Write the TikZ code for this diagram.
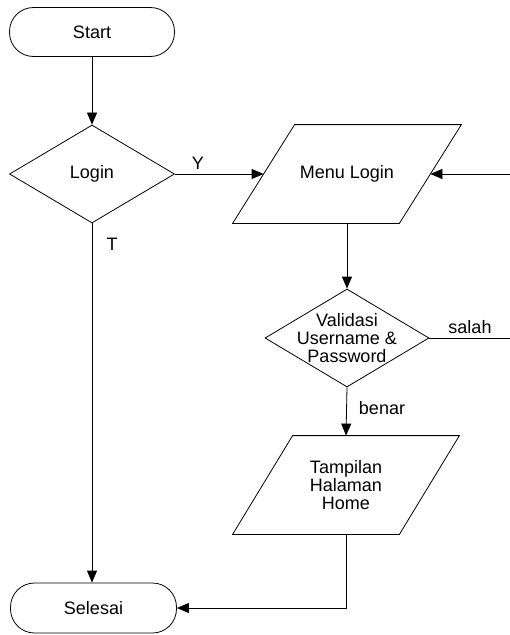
\documentclass[tikz,border=0pt]{standalone}
\usepackage{fontspec}
\setmainfont{Liberation Sans}
\usetikzlibrary{shapes.geometric, arrows.meta, calc}
\begin{document}
\begin{tikzpicture}[x=1pt,y=-1pt,
 font=\fontsize{18}{18}\selectfont,
 line width=0.8pt,
 terminal/.style={draw, rectangle, rounded corners=24pt, minimum width=165pt, minimum height=49pt, inner sep=0pt},
 decision/.style={draw, diamond, minimum width=165pt, minimum height=98pt, inner sep=0pt},
 iobox/.style={rectangle, minimum width=166pt, minimum height=98pt, inner sep=0pt, align=center},
 arr/.style={-{Triangle[length=12pt,width=10pt]}},
 lbl/.style={inner sep=0pt}]
\useasboundingbox (0,0) rectangle (510,635);

\node[terminal] (start) at (92,32) {Start};
\node[decision, label={center:Login}] (login) at (92,174) {};
\node[iobox] (menu) at (347,174) {Menu Login};
\node[decision, minimum width=164pt, label={[align=center]center:Validasi\\Username \&\\Password}] (valid) at (347,338) {};
\node[iobox] (tamp) at (346,485) {Tampilan\\Halaman\\Home};
\node[terminal, minimum width=166pt, minimum height=50pt] (selesai) at (93.5,608) {Selesai};

\draw ($(menu.north west)+(31,0)$) -- ($(menu.north east)+(31,0)$) -- ($(menu.south east)+(-31,0)$) -- ($(menu.south west)+(-31,0)$) -- cycle;
\draw ($(tamp.north west)+(30,0)$) -- ($(tamp.north east)+(30,0)$) -- ($(tamp.south east)+(-30,0)$) -- ($(tamp.south west)+(-30,0)$) -- cycle;

\node[lbl] (ylbl) at (198,163) {Y};
\node[lbl] (tlbl) at (112,244) {T};
\node[lbl] (salahlbl) at (470,327) {salah};
\node[lbl] (benarlbl) at (382,408) {benar};

\coordinate (rin) at (510,174);
\coordinate (rout) at (510,338);

\draw[arr] (start) -- (login);
\draw[arr] (login.east) -- (menu.west);
\draw[arr] (rin) -- (menu.east);
\draw[arr] (menu.south) -- (valid.north);
\draw (valid.east) -- (rout);
\draw[arr] (valid.south) -- (tamp.north);
\draw[arr] (tamp.south) |- (selesai.east);
\draw[arr] (login.south) -- (login.south |- selesai.north);
\end{tikzpicture}
\end{document}
